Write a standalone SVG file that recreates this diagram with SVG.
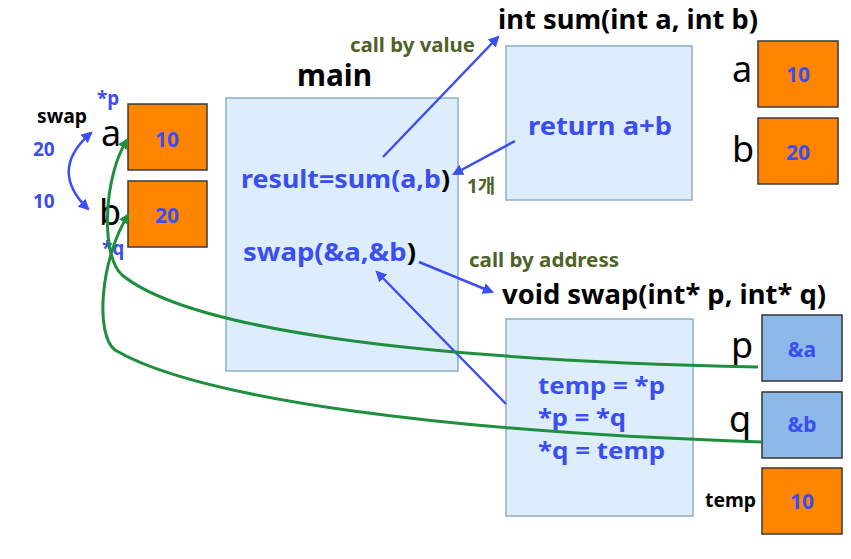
<svg xmlns="http://www.w3.org/2000/svg" width="851" height="559" viewBox="0 0 851 559">
<defs>
<style>
text{font-family:"Noto Sans","Liberation Sans","Noto Sans CJK KR",sans-serif}
.b{font-weight:bold}
.blue{fill:#3b4ef0}
.olive{fill:#4f6228;font-weight:bold;font-size:19px}
.blk{fill:#000}
.frame{fill:#ddedfb;stroke:#8eaecb;stroke-width:1.5}
.org{fill:#ff8500;stroke:#3a3a3a;stroke-width:1.5}
.addr{fill:#8db8ea;stroke:#333;stroke-width:1.5}
.var{font-size:36px;fill:#000}
.val{font-size:21px;font-weight:bold;fill:#3b4ef0;text-anchor:middle}
.ba{fill:none;stroke:#3b4ef0;stroke-width:2.5}
.ga{fill:none;stroke:#1f8f3f;stroke-width:3}
</style>
<marker id="ab" viewBox="0 0 10 10" refX="8" refY="5" markerWidth="4.5" markerHeight="4.5" orient="auto-start-reverse" markerUnits="strokeWidth"><path d="M0,0 L10,5 L0,10 z" fill="#3b4ef0"/></marker>
<marker id="ag" viewBox="0 0 10 10" refX="8" refY="5" markerWidth="3.5" markerHeight="3.5" orient="auto" markerUnits="strokeWidth"><path d="M0,0 L10,5 L0,10 z" fill="#1f8f3f"/></marker>
</defs>

<g id="main">
<rect class="frame" x="226" y="98" width="232" height="273"/>
<text class="b blk" x="297" y="86" font-size="30" textLength="75" lengthAdjust="spacingAndGlyphs">main</text>
<text class="b blue" x="241" y="188" font-size="25" textLength="209" lengthAdjust="spacingAndGlyphs">result=sum(a,b<tspan class="blk">)</tspan></text>
<text class="b blue" x="243" y="261" font-size="25" textLength="173" lengthAdjust="spacingAndGlyphs">swap(&amp;a,&amp;b<tspan class="blk">)</tspan></text>
</g>

<g id="sum">
<rect class="frame" x="506" y="46" width="186" height="154"/>
<text class="b blk" x="498" y="29" font-size="26" textLength="260" lengthAdjust="spacingAndGlyphs">int sum(int a, int b)</text>
<text class="b blue" x="528" y="135" font-size="25" textLength="144" lengthAdjust="spacingAndGlyphs">return a+b</text>
</g>

<g id="sum-vars">
<text class="var" x="732" y="82">a</text>
<rect class="org" x="758" y="41" width="80" height="66"/>
<text class="val" x="798" y="82">10</text>
<text class="var" x="732" y="162">b</text>
<rect class="org" x="758" y="118" width="80" height="66"/>
<text class="val" x="798" y="160">20</text>
</g>

<g id="swap">
<rect class="frame" x="506" y="319" width="187" height="197"/>
<text class="b blk" x="502" y="304" font-size="26" textLength="324" lengthAdjust="spacingAndGlyphs">void swap(int* p, int* q)</text>
<text class="b blue" x="538" y="394" font-size="23" textLength="127" lengthAdjust="spacingAndGlyphs">temp = *p</text>
<text class="b blue" x="538" y="426" font-size="23" textLength="88" lengthAdjust="spacingAndGlyphs">*p = *q</text>
<text class="b blue" x="538" y="459" font-size="23" textLength="127" lengthAdjust="spacingAndGlyphs">*q = temp</text>
</g>

<g id="swap-vars">
<text class="var" x="731" y="358">p</text>
<rect class="addr" x="762" y="315" width="80" height="66"/>
<text class="val" x="802" y="357" font-size="22">&amp;a</text>
<text class="var" x="729" y="432">q</text>
<rect class="addr" x="762" y="392" width="80" height="66"/>
<text class="val" x="802" y="432" font-size="22">&amp;b</text>
<text class="b blk" x="705" y="507" font-size="19" textLength="51" lengthAdjust="spacingAndGlyphs">temp</text>
<rect class="org" x="762" y="468" width="80" height="66"/>
<text class="val" x="802" y="509" font-size="23">10</text>
</g>

<g id="main-vars">
<text class="b blk" x="37" y="123" font-size="19" textLength="50" lengthAdjust="spacingAndGlyphs">swap</text>
<text class="b blue" x="97" y="105" font-size="19">*p</text>
<text class="b blue" x="33" y="156" font-size="19">20</text>
<text class="b blue" x="33" y="208" font-size="19">10</text>
<text class="var" x="101" y="146" font-size="34">a</text>
<rect class="org" x="128" y="104" width="79" height="66"/>
<text class="val" x="167" y="147">10</text>
<text class="var" x="99" y="225" font-size="34">b</text>
<rect class="org" x="128" y="181" width="79" height="66"/>
<text class="val" x="167" y="223">20</text>
<text class="b blue" x="102" y="255" font-size="19">*q</text>
</g>

<g id="labels">
<text class="olive" x="350" y="52" textLength="125" lengthAdjust="spacingAndGlyphs">call by value</text>
<text class="olive" x="467" y="193" font-size="18">1개</text>
<text class="olive" x="469" y="267" textLength="150" lengthAdjust="spacingAndGlyphs">call by address</text>
</g>

<g id="connectors">
<path class="ba" d="M383,157 L498,37" marker-end="url(#ab)"/>
<path class="ba" d="M515,141 L454,174" marker-end="url(#ab)"/>
<path class="ba" d="M419,262 L492,292" marker-end="url(#ab)"/>
<path class="ba" d="M506,404 L377,272" marker-end="url(#ab)"/>
<path class="ba" d="M91,133 Q48,170 88,209" marker-start="url(#ab)" marker-end="url(#ab)"/>
<path class="ga" d="M758,367 C420,360 190,330 122,275 C100,255 104,175 127,140" marker-end="url(#ag)"/>
<path class="ga" d="M762,442 C450,432 200,400 115,350 C95,335 100,260 128,215" marker-end="url(#ag)"/>
</g>
</svg>
